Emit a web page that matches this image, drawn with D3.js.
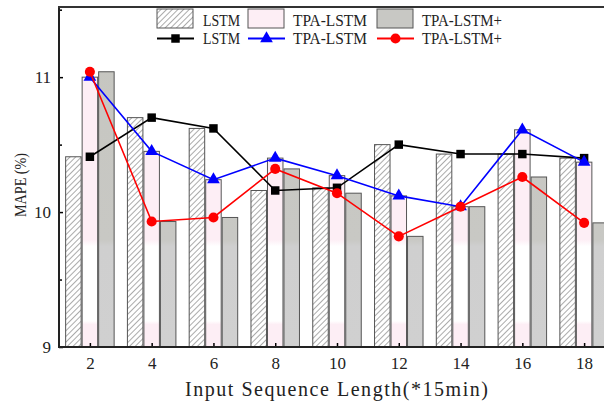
<!DOCTYPE html>
<html><head><meta charset="utf-8">
<script src="https://cdn.jsdelivr.net/npm/d3@7"></script>
<style>body{margin:0;background:#fff}svg{display:block}</style>
</head><body><svg id="c" width="604" height="403"></svg>
<script>
const categories = [2, 4, 6, 8, 10, 12, 14, 16, 18];
const lstm    = [10.41, 10.70, 10.62, 10.16, 10.18, 10.50, 10.43, 10.43, 10.40];
const tpaLstm = [11.00, 10.45, 10.24, 10.40, 10.27, 10.12, 10.04, 10.61, 10.37];
const tpaPlus = [11.04, 9.93, 9.96, 10.32, 10.14, 9.82, 10.04, 10.26, 9.92];
const yTicks = [9, 10, 11];
const seriesNames = ["LSTM", "TPA-LSTM", "TPA-LSTM+"];

const svg = d3.select("#c");
const x = d3.scaleLinear().domain([1, 19]).range([59, 615]);
const y = d3.scaleLinear().domain([9, 11.52]).range([347, 7]);

const defs = svg.append("defs");
const hatch = defs.append("pattern").attr("id","hatch").attr("patternUnits","userSpaceOnUse")
  .attr("width",4).attr("height",4).attr("patternTransform","rotate(45)");
hatch.append("rect").attr("width",4).attr("height",4).attr("fill","#fff");
hatch.append("line").attr("x1",0).attr("y1",0).attr("x2",0).attr("y2",4).attr("stroke","#666").attr("stroke-width",1.1);
const pg = defs.append("linearGradient").attr("id","pinkg").attr("gradientUnits","userSpaceOnUse")
  .attr("x1",0).attr("x2",0).attr("y1",0).attr("y2",347);
[[0,"#fdeef5"],[0.69,"#fdeef5"],[0.71,"#ffffff"],[0.925,"#ffffff"],[0.935,"#fdeef5"],[1,"#fdeef5"]]
  .forEach(([o,c])=>pg.append("stop").attr("offset",o).attr("stop-color",c));
const gg = defs.append("linearGradient").attr("id","grayg").attr("gradientUnits","userSpaceOnUse")
  .attr("x1",0).attr("x2",0).attr("y1",0).attr("y2",347);
[[0,"#c6c6c0"],[0.69,"#c8c8c4"],[0.71,"#cfcfcf"],[1,"#d0d0d0"]]
  .forEach(([o,c])=>gg.append("stop").attr("offset",o).attr("stop-color",c));

const barW = 15.5, step = 16.5;
const barSets = [
  {vals: lstm, off: -step, fill: "url(#hatch)"},
  {vals: tpaLstm, off: 0, fill: "url(#pinkg)"},
  {vals: tpaPlus, off: step, fill: "url(#grayg)"}
];
barSets.forEach(s => {
  svg.append("g").selectAll("rect").data(categories).join("rect")
    .attr("x", (d,i) => x(d) + s.off - barW/2)
    .attr("y", (d,i) => y(s.vals[i]))
    .attr("width", barW)
    .attr("height", (d,i) => y(9) - y(s.vals[i]))
    .attr("fill", s.fill).attr("stroke", "#555").attr("stroke-width", 1);
});

// axes
const yAxis = d3.axisLeft(y).tickValues(yTicks).tickSize(-4).tickPadding(8).tickFormat(d3.format("d"));
const yMinor = d3.axisLeft(y).tickValues([9.5,10.5,11.5]).tickSize(-3).tickFormat("");
const xAxis = d3.axisBottom(x).tickValues(categories).tickSize(-4).tickPadding(10);
svg.append("g").attr("transform","translate(59,0)").call(yAxis);
svg.append("g").attr("transform","translate(59,0)").call(yMinor);
svg.append("g").attr("transform","translate(0,347)").call(xAxis);
svg.selectAll(".domain").remove();
svg.selectAll(".tick line").attr("stroke","#000").attr("stroke-width",1.5);
svg.selectAll(".tick text").attr("font-family","'Liberation Serif', serif").attr("font-size",17).attr("fill","#222");
svg.append("line").attr("x1",59).attr("x2",59).attr("y1",6).attr("y2",348).attr("stroke","#222").attr("stroke-width",2);
svg.append("line").attr("x1",58).attr("x2",604).attr("y1",347).attr("y2",347).attr("stroke","#222").attr("stroke-width",2);
svg.append("line").attr("x1",58).attr("x2",604).attr("y1",7).attr("y2",7).attr("stroke","#333").attr("stroke-width",2);

// lines
const line = vals => d3.line().x((d,i)=>x(d)).y((d,i)=>y(vals[i]))(categories);
const sqr = d3.symbol().type(d3.symbolSquare).size(72);
const tri = d3.symbol().type(d3.symbolTriangle).size(70);
const cir = d3.symbol().type(d3.symbolCircle).size(80);
const lineSets = [
  {vals: lstm, color: "#000", sym: sqr},
  {vals: tpaLstm, color: "#0000ff", sym: tri},
  {vals: tpaPlus, color: "#ff0000", sym: cir}
];
lineSets.forEach(s => {
  svg.append("path").attr("d", line(s.vals)).attr("fill","none").attr("stroke", s.color).attr("stroke-width",1.6);
  svg.append("g").selectAll("path").data(categories).join("path")
    .attr("transform",(d,i)=>`translate(${x(d)},${y(s.vals[i])})`)
    .attr("d", s.sym()).attr("fill", s.color);
});

// legend
const lg = svg.append("g");
const lx = [157, 248, 377];
const tx = [203, 293, 422];
const tw = [37, 74, 80];
const lfont = "'Liberation Serif', serif";
[ "url(#hatch)", "#fdeef5", "#c8c8c4" ].forEach((f,i) => {
  lg.append("rect").attr("x", lx[i]).attr("y", 9).attr("width", 36).attr("height", 19)
    .attr("fill", f).attr("stroke","#555").attr("stroke-width",1);
  lg.append("text").attr("x", tx[i]).attr("y", 26).text(seriesNames[i])
    .attr("textLength", tw[i]).attr("lengthAdjust","spacingAndGlyphs")
    .attr("font-family", lfont).attr("font-size", 17).attr("fill","#222");
});
lineSets.forEach((s,i) => {
  lg.append("line").attr("x1", lx[i]).attr("x2", lx[i]+37).attr("y1",38.5).attr("y2",38.5)
    .attr("stroke", s.color).attr("stroke-width",1.8);
  lg.append("path").attr("transform",`translate(${lx[i]+18.5},38.5)`).attr("d", s.sym()).attr("fill", s.color);
  lg.append("text").attr("x", tx[i]).attr("y", 44).text(seriesNames[i])
    .attr("textLength", tw[i]).attr("lengthAdjust","spacingAndGlyphs")
    .attr("font-family", lfont).attr("font-size", 17).attr("fill","#222");
});

// axis titles
svg.append("text").attr("x", 185).attr("y", 396)
  .attr("textLength", 303).attr("lengthAdjust","spacing")
  .attr("font-family", lfont).attr("font-size", 20).attr("fill","#222")
  .text("Input Sequence Length(*15min)");
svg.append("text").attr("transform","translate(26,185) rotate(-90)").attr("text-anchor","middle")
  .attr("textLength", 64).attr("lengthAdjust","spacingAndGlyphs")
  .attr("font-family", lfont).attr("font-size", 17).attr("fill","#222")
  .text("MAPE (%)");
</script></body></html>
